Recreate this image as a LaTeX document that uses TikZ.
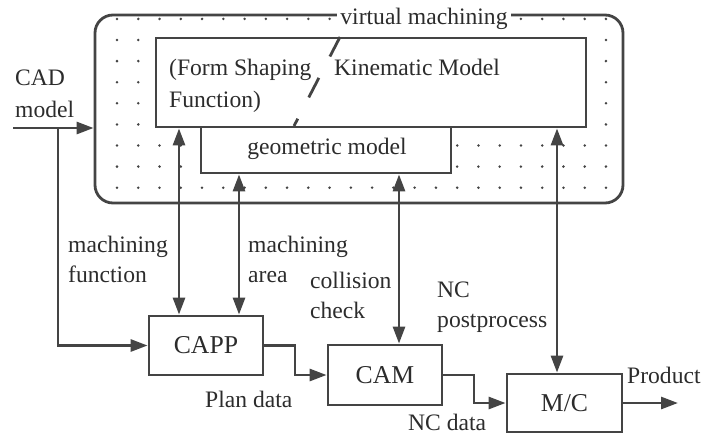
\documentclass[tikz,border=0pt]{standalone}
\usepackage{fontspec}
\setmainfont{Liberation Serif}
\newfontfamily\tms{Liberation Serif}
\usetikzlibrary{arrows.meta}
\definecolor{ln}{HTML}{444444}
\definecolor{tx}{HTML}{2C2C2C}
\begin{document}
\begin{tikzpicture}[x=1pt,y=-1pt,
  lbl/.style={text=tx, font=\tms\fontsize{23.6}{28}\selectfont, inner sep=0pt, anchor=base west},
  blbl/.style={text=tx, font=\tms\fontsize{25.7}{30}\selectfont},
  box/.style={draw=ln, line width=2.8pt, fill=white, inner sep=0pt},
  con/.style={draw=ln, line width=2.8pt},
  arr/.style={con, -{Triangle[length=17pt,width=12pt]}},
  dbl/.style={con, {Triangle[length=17pt,width=12pt]}-{Triangle[length=17pt,width=12pt]}}
]
\useasboundingbox (0,0) rectangle (716,434);

% outer virtual machining frame
\node[box, fill=none, rounded corners=18pt, minimum width=528pt, minimum height=188pt] (vm) at (359,109) {};
% dot pattern
\foreach \i in {0,...,23}{
  \foreach \j in {-1,...,7}{
    \fill[ln] (117+21.26*\i, 40+21.1*\j) circle (1.4pt);
  }
}
\node[lbl, anchor=base, fill=white, inner xsep=3pt, inner ysep=1pt] (vmt) at (424,24) {virtual machining};

% inner boxes
\node[box, minimum width=250pt, minimum height=46pt] (geo) at (326,150) {};
\node[box, minimum width=430pt, minimum height=89pt] (kin) at (371,82.5) {};
\draw[ln, line width=2.8pt, dash pattern=on 22pt off 24pt] (340,37) -- (294,126);
\node[lbl] (fs1) at (169,75) {(Form Shaping};
\node[lbl] (fs2) at (169,107) {Function)};
\node[lbl] (km) at (334,75) {Kinematic Model};
\node[lbl, anchor=base] (gm) at (327,154) {geometric model};

% process boxes
\node[box, blbl, minimum width=114pt, minimum height=59pt] (capp) at (206,345.5) {CAPP};
\node[box, blbl, minimum width=114pt, minimum height=60pt] (cam) at (385,375) {CAM};
\node[box, blbl, minimum width=115pt, minimum height=58pt] (mc) at (564.5,403) {M/C};

% CAD model input
\node[lbl] (cad1) at (15,85) {CAD};
\node[lbl] (cad2) at (15,117) {model};
\coordinate (cadA) at (13,128);
\coordinate (cadB) at (58,128);
\draw[arr] (cadA) -- (vm.west |- cadA);
\draw[arr] (cadB) |- (capp.west);

% vertical exchanges
\draw[dbl] (179,0 |- kin.south) -- (179,0 |- capp.north);
\draw[dbl] (239,0 |- geo.south) -- (239,0 |- capp.north);
\draw[dbl] (399,0 |- geo.south) -- (399,0 |- cam.north);
\draw[dbl] (557,0 |- kin.south) -- (557,0 |- mc.north);

% data flow
\draw[arr] (capp.east) -- (capp.east -| 295,0) |- (cam.west);
\draw[arr] (cam.east) -- (cam.east -| 474,0) |- (mc.west);
\coordinate (prod) at (678,404);
\draw[arr] (mc.east) -- (mc.east -| prod);

% labels
\node[lbl] (mf1) at (68,252) {machining};
\node[lbl] (mf2) at (68,282) {function};
\node[lbl] (ma1) at (248,252) {machining};
\node[lbl] (ma2) at (248,282) {area};
\node[lbl] (cc1) at (310,288) {collision};
\node[lbl] (cc2) at (310,318) {check};
\node[lbl] (nc1) at (437,297) {NC};
\node[lbl] (nc2) at (437,327) {postprocess};
\node[lbl] (pd) at (205,407) {Plan data};
\node[lbl] (ncd) at (408,430) {NC data};
\node[lbl] (pr) at (627,383) {Product};
\end{tikzpicture}
\end{document}
